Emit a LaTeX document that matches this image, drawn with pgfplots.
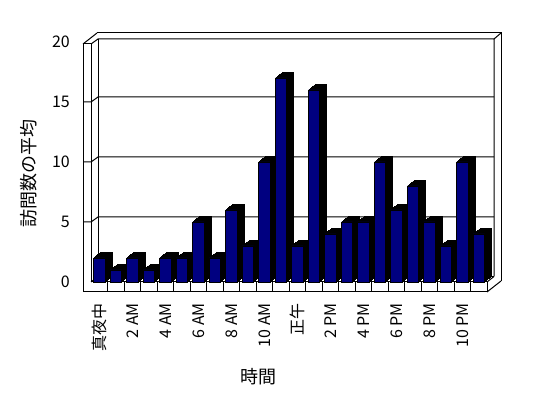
\documentclass[border=0pt]{standalone}
\usepackage{fontspec}
\setmainfont{Noto Sans CJK JP}
\usepackage{pgfplots}
\pgfplotsset{compat=1.18}
\usepackage{pgfplotstable}
\definecolor{barnavy}{RGB}{0,0,128}

\pgfplotstableread{
x y
0 2
1 1
2 2
3 1
4 2
5 2
6 5
7 2
8 6
9 3
10 10
11 17
12 3
13 16
14 4
15 5
16 5
17 10
18 6
19 8
20 5
21 3
22 10
23 4
}\visits

\begin{document}
\begin{tikzpicture}
\useasboundingbox (0,0) rectangle (548pt,398pt);
\begin{scope}[yshift=398pt, x=1pt, y=-1pt, line width=1pt]
  % back wall outer edges
  \draw (97,33) -- (501,33) -- (501,281);
  \draw (83,44) -- (97,33);
  \draw (494,39) -- (501,33);
  % back wall inner face
  \draw (91,44) -- (98,39) -- (494,39) -- (494,276.5);
  \draw (98,39) -- (98,276.5) -- (494,276.5);
  % gridlines
  \foreach \v in {5,10,15} {
    \draw (83,{282-12*\v}) -- (91,{282-12*\v}) -- (98,{277-12*\v}) -- (494,{277-12*\v});
  }
  % floor
  \draw (91,282) -- (98,276.5);
  \draw (487,282) -- (494,276.5);
  \draw (487,292) -- (501,281);
  % left wall front face and floor front face
  \draw (83,44) -- (91,44) -- (91,282) -- (487,282) -- (487,292) -- (83,292) -- cycle;
  \foreach \k in {1,...,23} { \draw ({91+16.5*\k},282) -- ({91+16.5*\k},292); }
\end{scope}
\begin{axis}[
  at={(91pt,116pt)}, anchor=south west,
  scale only axis, width=396pt, height=240pt,
  xmin=-0.5, xmax=23.5, ymin=0, ymax=20,
  clip=false,
  axis line style={draw=none},
  tick style={draw=none},
  major tick length=0pt,
  xtick={0,2,...,22},
  xticklabels={真夜中,2 AM,4 AM,6 AM,8 AM,10 AM,正午,2 PM,4 PM,6 PM,8 PM,10 PM},
  ytick={0,5,10,15,20},
  /pgf/number format/assume math mode=true,
  xticklabel style={rotate=90, anchor=east, inner sep=0pt, font=\fontsize{16}{18}\selectfont},
  xticklabel shift=21pt,
  yticklabel style={anchor=east, inner sep=0pt, font=\fontsize{16}{19}\selectfont},
  yticklabel shift=21pt,
]
\pgfplotsinvokeforeach{7,6,5,4,3,2,1}{
  \addplot[ybar, bar shift=0pt, bar width=11.5pt, fill=black, draw=black, line width=0.6pt, forget plot, xshift=#1pt, yshift={#1*0.8pt}] table[x=x,y=y]{\visits};
}
\addplot[ybar, bar shift=0pt, bar width=11.5pt, fill=barnavy, draw=black, line width=0.6pt] table[x=x,y=y]{\visits};
\end{axis}
\node[rotate=90, font=\fontsize{18}{20}\selectfont] at (28.5pt,224pt) {訪問数の平均};
\node[font=\fontsize{18}{20}\selectfont] at (258pt,21pt) {時間};
\end{tikzpicture}
\end{document}
